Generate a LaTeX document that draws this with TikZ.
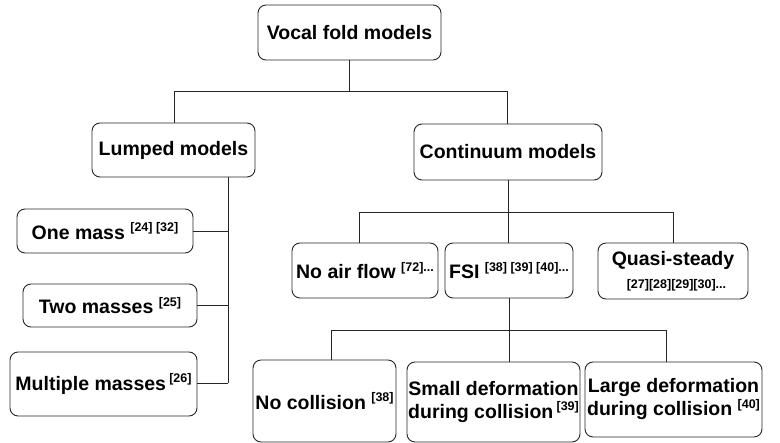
\documentclass[tikz,border=0pt]{standalone}
\usepackage{fontspec}
\setmainfont{Liberation Sans}
\newcommand{\rf}[1]{\raisebox{0.4em}{\fontsize{12.5}{12.5}\selectfont #1}}
\begin{document}
\begin{tikzpicture}[x=1pt,y=-1pt,
  box/.style={draw=black!85,line width=0.9pt,rounded corners=8pt,align=center,inner sep=0pt,
    font=\fontsize{19.5}{23}\selectfont\bfseries},
  conn/.style={draw=black!85,line width=0.9pt}]
\useasboundingbox (0,0) rectangle (780,443);
\node[box,minimum width=183,minimum height=55] (top) at (349.5,32.5) {Vocal fold models};
\node[box,minimum width=163,minimum height=54] (lumped) at (173.5,150) {Lumped models};
\node[box,minimum width=188,minimum height=56] (cont) at (508,152) {Continuum models};
\node[box,minimum width=176,minimum height=44] (one) at (105,231) {One mass \rf{[24] [32]}};
\node[box,minimum width=174,minimum height=43] (two) at (110,305.5) {Two masses \rf{[25]}};
\node[box,minimum width=187,minimum height=64] (multi) at (103.5,384) {Multiple masses\,\rf{[26]}};
\node[box,minimum width=146,minimum height=55] (noair) at (365,270.5) {No air flow \rf{[72]...}};
\node[box,minimum width=128,minimum height=55] (fsi) at (509,270.5) {FSI \rf{[38] [39] [40]...}};
\node[box,minimum width=150,minimum height=56] (quasi) at (673,271) {Quasi-steady\\{\fontsize{12.5}{12.5}\selectfont\ \ [27][28][29][30]...}};
\node[box,minimum width=143,minimum height=82] (nocol) at (324.5,401) {No collision \rf{[38]}};
\node[box,minimum width=173,minimum height=80] (small) at (493.5,402) {Small deformation\\during collision\,\rf{[39]}};
\node[box,minimum width=177,minimum height=75] (large) at (673.5,399.5) {Large deformation\\during collision \rf{[40]}};
% top level
\coordinate (t1) at (174,91);
\coordinate (t3) at (507,91);
\draw[conn] (top.south) -- (top.south |- t1);
\draw[conn] (t1 |- lumped.north) -- (t1) -- (t3) -- (t3 |- cont.north);
% lumped spine
\coordinate (sp) at (228,383);
\draw[conn] (lumped.south -| sp) -- (sp);
\draw[conn] (one.east) -- (one.east -| sp);
\draw[conn] (two.east) -- (two.east -| sp);
\draw[conn] (multi.east |- sp) -- (sp);
% continuum
\coordinate (a1) at (359,212);
\coordinate (a3) at (673,212);
\draw[conn] (cont.south) -- (cont.south |- fsi.north);
\draw[conn] (a1 |- noair.north) -- (a1) -- (a3) -- (a3 |- quasi.north);
% FSI
\coordinate (b1) at (331,330);
\coordinate (b3) at (666,330);
\draw[conn] (fsi.south) -- (fsi.south |- small.north);
\draw[conn] (b1 |- nocol.north) -- (b1) -- (b3) -- (b3 |- large.north);
\end{tikzpicture}
\end{document}
